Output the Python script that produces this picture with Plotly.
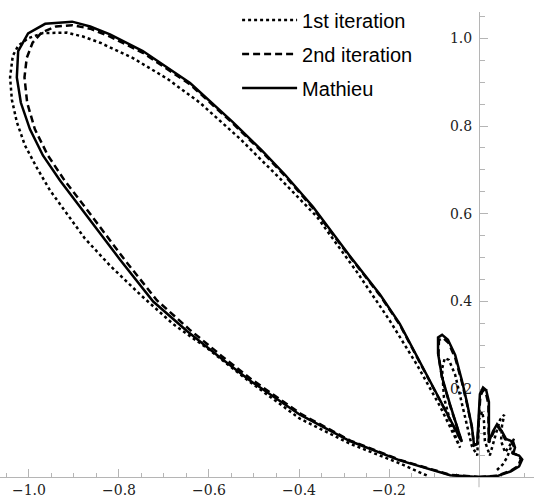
import plotly.graph_objects as go

# ---- tick labels ----
x_tick_vals = [-1.0, -0.8, -0.6, -0.4, -0.2]
x_tick_text = ["\u22121.0", "\u22120.8", "\u22120.6", "\u22120.4", "\u22120.2"]
y_tick_vals = [0.2, 0.4, 0.6, 0.8, 1.0]
y_tick_text = ["0.2", "0.4", "0.6", "0.8", "1.0"]

series_names = ["1st iteration", "2nd iteration", "Mathieu"]

# ---- 1st iteration (dotted) ----
iter1_x = [0.040, 0.053, 0.062, 0.073, 0.078, 0.069, 0.058, 0.049, 0.051, 0.056,
           0.047, 0.038, 0.024, 0.013, 0.011, 0.007, 0.000, -0.002, -0.004, -0.016,
           -0.027, -0.040, -0.053, -0.067, -0.076, -0.082, -0.078, -0.064, -0.051, -0.042,
           -0.087, -0.138, -0.198, -0.271, -0.360, -0.442, -0.531, -0.620, -0.693, -0.769,
           -0.842, -0.880, -0.916, -0.969, -1.002, -1.024, -1.036, -1.042, -1.038, -1.027,
           -1.009, -0.982, -0.953, -0.916, -0.876, -0.820, -0.753, -0.680, -0.598, -0.516,
           -0.398, -0.287, -0.176, -0.113]
iter1_y = [0.016, 0.029, 0.044, 0.071, 0.087, 0.073, 0.056, 0.082, 0.116, 0.142,
           0.131, 0.100, 0.049, 0.082, 0.127, 0.149, 0.131, 0.089, 0.049, 0.071,
           0.116, 0.176, 0.233, 0.267, 0.271, 0.247, 0.182, 0.127, 0.089, 0.067,
           0.162, 0.256, 0.356, 0.467, 0.593, 0.680, 0.771, 0.853, 0.908, 0.955,
           0.990, 1.004, 1.013, 1.012, 1.000, 0.983, 0.960, 0.911, 0.860, 0.809,
           0.756, 0.704, 0.653, 0.600, 0.544, 0.482, 0.416, 0.349, 0.289, 0.222,
           0.133, 0.076, 0.031, 0.002]

# ---- 2nd iteration (dashed) ----
iter2_x = [0.000, 0.040, 0.070, 0.087, 0.093, 0.086, 0.074, 0.078, 0.073, 0.058,
           0.050, 0.041, 0.032, 0.022, 0.021, 0.021, 0.015, 0.009, 0.003, 0.000,
           -0.002, -0.004, -0.011, -0.016, -0.027, -0.038, -0.053, -0.068, -0.080, -0.089,
           -0.090, -0.082, -0.064, -0.049, -0.038,
           -0.087, -0.131, -0.176, -0.220, -0.287, -0.369, -0.431, -0.482, -0.547, -0.642,
           -0.747, -0.820, -0.864, -0.904, -0.940, -0.972, -0.992, -1.005, -1.010, -1.004,
           -0.987, -0.958, -0.921, -0.876, -0.831, -0.788, -0.716, -0.643, -0.572, -0.506,
           -0.396, -0.286, -0.176, -0.064, 0.000]
iter2_y = [0.000, 0.003, 0.014, 0.025, 0.041, 0.050, 0.055, 0.068, 0.080, 0.086,
           0.102, 0.116, 0.101, 0.078, 0.120, 0.166, 0.192, 0.198, 0.184, 0.141,
           0.102, 0.075, 0.072, 0.114, 0.168, 0.216, 0.272, 0.306, 0.317, 0.312,
           0.278, 0.224, 0.162, 0.115, 0.079,
           0.175, 0.259, 0.347, 0.414, 0.502, 0.613, 0.686, 0.741, 0.806, 0.895,
           0.967, 1.004, 1.022, 1.030, 1.027, 1.013, 0.990, 0.955, 0.911, 0.853,
           0.793, 0.733, 0.676, 0.616, 0.556, 0.496, 0.403, 0.336, 0.276, 0.223,
           0.144, 0.083, 0.039, 0.005, 0.000]

# ---- Mathieu (solid) ----
mathieu_x = [0.000, 0.040, 0.071, 0.089, 0.096, 0.089, 0.076, 0.080, 0.076, 0.060,
             0.051, 0.040, 0.031, 0.022, 0.022, 0.022, 0.016, 0.009, 0.002, 0.000,
             -0.002, -0.004, -0.011, -0.016, -0.027, -0.038, -0.053, -0.069, -0.082, -0.091,
             -0.091, -0.082, -0.064, -0.049, -0.038,
             -0.087, -0.131, -0.176, -0.220, -0.287, -0.369, -0.431, -0.482, -0.547, -0.642,
             -0.747, -0.820, -0.864, -0.904, -0.964, -1.002, -1.024, -1.027, -1.018, -0.998,
             -0.969, -0.931, -0.887, -0.842, -0.798, -0.724, -0.649, -0.576, -0.509, -0.398,
             -0.287, -0.176, -0.064, 0.000]
mathieu_y = [0.000, 0.002, 0.013, 0.024, 0.040, 0.049, 0.053, 0.067, 0.080, 0.087,
             0.104, 0.120, 0.104, 0.080, 0.122, 0.171, 0.198, 0.204, 0.189, 0.144,
             0.104, 0.076, 0.073, 0.116, 0.171, 0.220, 0.278, 0.313, 0.324, 0.318,
             0.282, 0.227, 0.164, 0.116, 0.080,
             0.176, 0.260, 0.349, 0.416, 0.504, 0.616, 0.689, 0.744, 0.809, 0.898,
             0.971, 1.009, 1.027, 1.038, 1.033, 1.011, 0.971, 0.911, 0.853, 0.793,
             0.733, 0.676, 0.616, 0.556, 0.496, 0.400, 0.333, 0.273, 0.220, 0.142,
             0.082, 0.038, 0.004, 0.000]

W, H = 534, 500
x_range = [-1.0644, 0.1222]
y_range = [0.0, 1.06]

fig = go.Figure()
styles = [dict(dash="3px,3px", width=2.5), dict(dash="7px,4px", width=2.5), dict(dash="solid", width=2.5)]
data = [(iter1_x, iter1_y), (iter2_x, iter2_y), (mathieu_x, mathieu_y)]
for i, (name, (xs, ys), st) in enumerate(zip(series_names, data, styles)):
    fig.add_trace(go.Scatter(x=xs, y=ys, mode="lines", name=name, legendgroup=f"g{i}",
                             line=dict(color="black", width=st["width"], dash=st["dash"])))

axis_col = "#b5b5b5"
tick_font = dict(family="DejaVu Serif", size=14, color="#222")
yaxis_pos = (0 - x_range[0]) / (x_range[1] - x_range[0])

# small extension of the vertical axis line below the horizontal axis
fig.add_shape(type="line", xref="x", yref="paper", x0=0, x1=0, y0=-0.022, y1=0,
              line=dict(color=axis_col, width=1), layer="below")

fig.update_layout(
    width=W, height=H,
    margin=dict(l=0, r=0, t=0, b=23, pad=0),
    plot_bgcolor="white", paper_bgcolor="white",
    showlegend=True,
    legend=dict(x=0.444, y=1.025, xanchor="left", yanchor="top",
                font=dict(family="Liberation Sans", size=20, color="black"),
                bgcolor="rgba(0,0,0,0)", itemwidth=55, traceorder="grouped",
                tracegroupgap=5),
    xaxis=dict(range=x_range, showgrid=False, zeroline=False, showline=True,
               linecolor=axis_col, linewidth=1, ticks="inside", ticklen=8,
               tickcolor=axis_col, tickvals=x_tick_vals, ticktext=x_tick_text,
               tickfont=tick_font, layer="below traces",
               minor=dict(dtick=0.05, tick0=0, ticks="inside", ticklen=4.5,
                          tickcolor=axis_col, showgrid=False)),
    yaxis=dict(range=y_range, showgrid=False, zeroline=False, showline=True,
               linecolor=axis_col, linewidth=1, ticks="inside", ticklen=8,
               tickcolor=axis_col, tickvals=y_tick_vals, ticktext=y_tick_text,
               tickfont=tick_font, anchor="free", position=yaxis_pos,
               side="left", layer="below traces", ticklabelstandoff=4,
               minor=dict(dtick=0.05, tick0=0, ticks="inside", ticklen=4.5,
                          tickcolor=axis_col, showgrid=False)),
)
fig.write_html("out.html")
